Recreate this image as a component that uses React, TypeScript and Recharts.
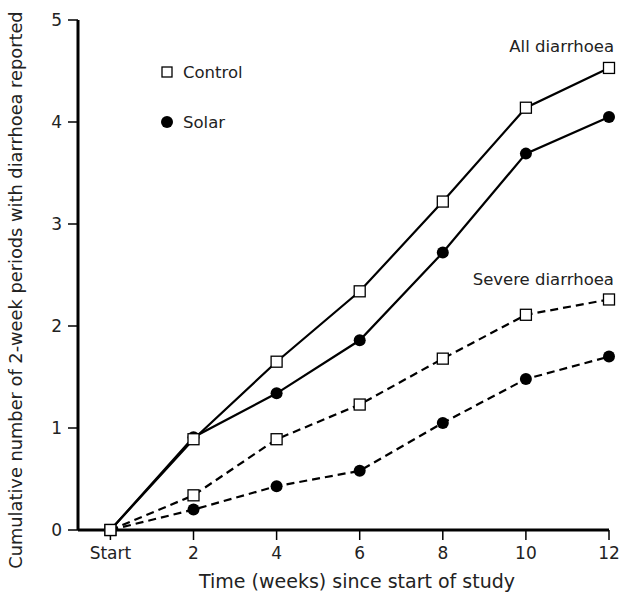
import { LineChart, Line, XAxis, YAxis } from "recharts";

// weeks since start (0 = "Start")
const weeks = [0, 2, 4, 6, 8, 10, 12];
const tickLabels = ["Start", "2", "4", "6", "8", "10", "12"];
const yTicks = [0, 1, 2, 3, 4, 5];

const controlAll = [0, 0.89, 1.65, 2.34, 3.22, 4.14, 4.53];
const solarAll = [0, 0.91, 1.34, 1.86, 2.72, 3.69, 4.05];
const controlSevere = [0, 0.34, 0.89, 1.23, 1.68, 2.11, 2.26];
const solarSevere = [0, 0.2, 0.43, 0.58, 1.05, 1.48, 1.7];

const data = weeks.map((w, i) => ({
  week: w,
  controlAll: controlAll[i],
  solarAll: solarAll[i],
  controlSevere: controlSevere[i],
  solarSevere: solarSevere[i],
}));

const FONT = "'DejaVu Sans', sans-serif";
const TEXT = "#222";

const SquareDot = (props: any) => {
  const { cx, cy } = props;
  if (cx == null || cy == null) return null;
  return (
    <rect
      x={cx - 5.5}
      y={cy - 5.5}
      width={11}
      height={11}
      fill="#fff"
      stroke="#000"
      strokeWidth={1.3}
    />
  );
};

const CircleDot = (props: any) => {
  const { cx, cy } = props;
  if (cx == null || cy == null) return null;
  return <circle cx={cx} cy={cy} r={6} fill="#000" />;
};

export default function App() {
  return (
    <div style={{ position: "absolute", left: 0, top: 0, width: 619, height: 594, background: "#fff" }}>
      <LineChart
        width={619}
        height={594}
        data={data}
        margin={{ top: 20, right: 10, bottom: 0, left: 0 }}
        style={{ fontFamily: FONT }}
      >
        <XAxis
          dataKey="week"
          type="number"
          domain={[-0.78, 12]}
          ticks={weeks}
          tickFormatter={(v) => tickLabels[weeks.indexOf(v)]}
          height={64}
          stroke="#000"
          axisLine={{ strokeWidth: 3 }}
          tickLine={{ strokeWidth: 1.5 }}
          tickSize={10}
          tickMargin={7}
          tick={{ fill: TEXT, fontSize: 17, fontFamily: FONT }}
        />
        <YAxis
          domain={[0, 5]}
          ticks={yTicks}
          width={78}
          stroke="#000"
          axisLine={{ strokeWidth: 3 }}
          tickLine={{ strokeWidth: 1.5 }}
          tickSize={10}
          tickMargin={6}
          tick={{ fill: TEXT, fontSize: 17, fontFamily: FONT }}
        />
        {/* solar first so the control squares sit on top where they overlap */}
        <Line dataKey="solarSevere" stroke="#000" strokeWidth={2.2} strokeDasharray="8 5" dot={<CircleDot />} isAnimationActive={false} />
        <Line dataKey="solarAll" stroke="#000" strokeWidth={2.2} dot={<CircleDot />} isAnimationActive={false} />
        <Line dataKey="controlSevere" stroke="#000" strokeWidth={2.2} strokeDasharray="8 5" dot={<SquareDot />} isAnimationActive={false} />
        <Line dataKey="controlAll" stroke="#000" strokeWidth={2.2} dot={<SquareDot />} isAnimationActive={false} />
      </LineChart>
      <svg
        width={619}
        height={594}
        style={{ position: "absolute", left: 0, top: 0, pointerEvents: "none", fontFamily: FONT }}
      >
        <text x={22} y={290} fontSize={17.8} fill={TEXT} textAnchor="middle" transform="rotate(-90 22 290)">
          Cumulative number of 2-week periods with diarrhoea reported
        </text>
        <text x={357} y={588} fontSize={19} fill={TEXT} textAnchor="middle">
          Time (weeks) since start of study
        </text>
        <rect x={162} y={67} width={10} height={10} fill="#fff" stroke="#000" strokeWidth={1.3} />
        <text x={183} y={78} fontSize={16.5} fill={TEXT}>Control</text>
        <circle cx={167} cy={122} r={6} fill="#000" />
        <text x={183} y={128} fontSize={16.5} fill={TEXT}>Solar</text>
        <text x={614} y={52} fontSize={16.5} fill={TEXT} textAnchor="end">All diarrhoea</text>
        <text x={614} y={285} fontSize={16.5} fill={TEXT} textAnchor="end">Severe diarrhoea</text>
      </svg>
    </div>
  );
}
